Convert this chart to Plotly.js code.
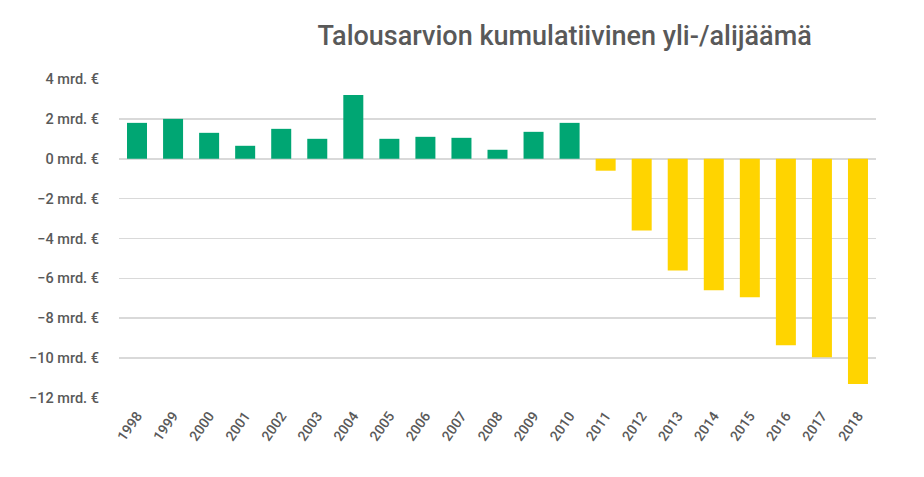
<!DOCTYPE html>
<html>
<head>
<meta charset="utf-8">
<script src="https://cdn.plot.ly/plotly-3.0.1.min.js"></script>
<style>
  html, body { margin: 0; padding: 0; background: #fff; }
  #chart { width: 924px; height: 477px; }
</style>
</head>
<body>
<div id="chart"></div>
<script>
"use strict";

// Kumulatiivinen yli-/alijäämä, mrd. €
const YEARS = ["1998", "1999", "2000", "2001", "2002", "2003", "2004", "2005", "2006", "2007",
  "2008", "2009", "2010", "2011", "2012", "2013", "2014", "2015", "2016", "2017", "2018"];
const VALUES = [1.8, 2.0, 1.3, 0.65, 1.5, 1.0, 3.2, 1.0, 1.1, 1.05,
  0.45, 1.35, 1.8, -0.6, -3.6, -5.6, -6.6, -6.95, -9.35, -9.95, -11.3];

const GREEN = "#00a673";
const YELLOW = "#ffd400";
const TEXT = "#595959";
const FONT = "Roboto, 'Open Sans', sans-serif";

const colors = VALUES.map(v => (v >= 0 ? GREEN : YELLOW));

const data = [
  {
    type: "bar",
    x: YEARS,
    y: VALUES,
    marker: { color: colors },
    hoverinfo: "x+y",
  },
];

const layout = {
  width: 924,
  height: 477,
  margin: { l: 119, r: 48, t: 79, b: 79 },
  paper_bgcolor: "#fff",
  plot_bgcolor: "#fff",
  bargap: 0.445,
  showlegend: false,
  font: { family: FONT, color: TEXT },
  title: {
    text: "Talousarvion kumulatiivinen yli-/alijäämä",
    font: { family: FONT, size: 27, color: TEXT, weight: 500 },
    x: 0.611,
    xanchor: "center",
    y: 0.925,
    yanchor: "middle",
  },
  xaxis: {
    type: "category",
    tickangle: -55,
    tickfont: { size: 14, color: TEXT, weight: 500 },
    showgrid: false,
    showline: false,
    ticks: "",
    ticklabelstandoff: 6,
  },
  yaxis: {
    range: [-12, 4],
    dtick: 2,
    ticksuffix: " mrd. €",
    tickfont: { size: 14.5, color: TEXT, weight: 500 },
    gridcolor: "#d9d9d9",
    gridwidth: 1.7,
    zeroline: true,
    zerolinecolor: "#d9d9d9",
    zerolinewidth: 1.7,
    ticks: "",
    ticklabelstandoff: 19,
  },
};

Plotly.newPlot("chart", data, layout, { displayModeBar: false, staticPlot: true });
</script>
</body>
</html>
